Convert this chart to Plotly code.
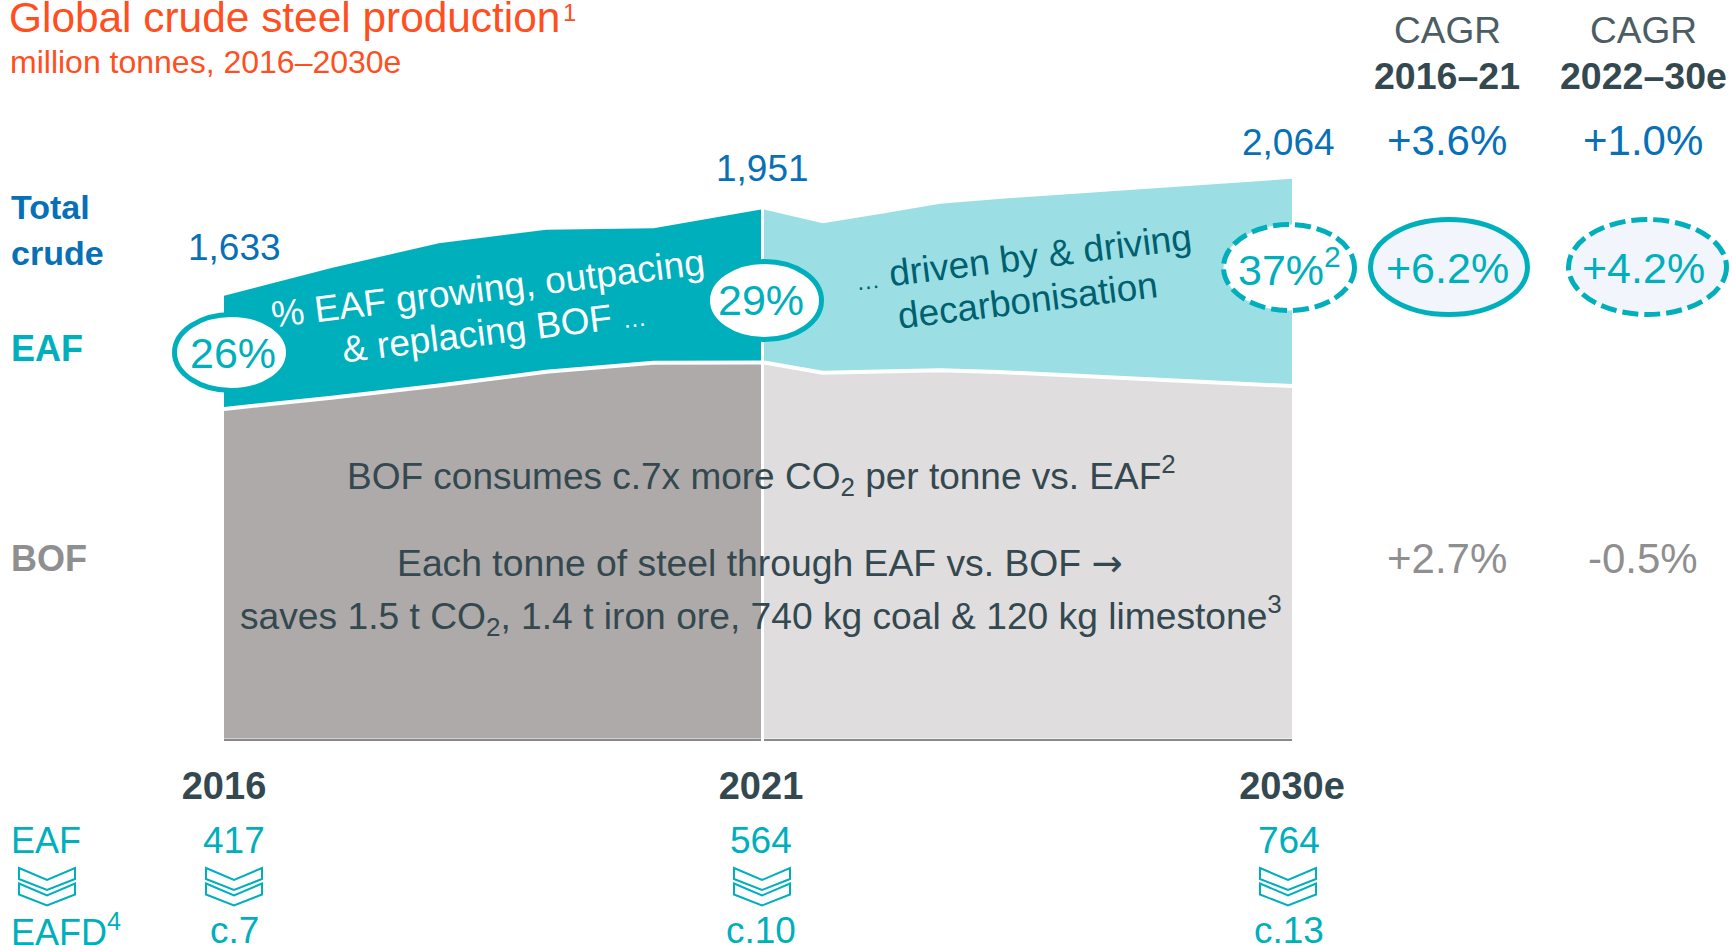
import plotly.graph_objects as go

W, H = 1733, 945
FONT = "Liberation Sans"

# ---- data (million tonnes) ----
years_a = [2016, 2017, 2018, 2019, 2020, 2021]
total_a = [1633, 1735, 1827, 1876, 1882, 1951]
bof_a = [1216, 1257, 1302, 1353, 1386, 1387]

years_b = [2021, 2022, 2023, 2024, 2025, 2030]
total_b = [1951, 1900, 1935, 1972, 1990, 2064]
bof_b = [1387, 1349, 1354, 1358, 1352, 1300]

total_labels = ["1,633", "1,951", "2,064"]
year_ticks = ["2016", "2021", "2030e"]
eaf_labels = ["417", "564", "764"]
eafd_labels = ["c.7", "c.10", "c.13"]
share_labels = ["26%", "29%", "37%<sup>2</sup>"]
cagr_heads = ["2016–21", "2022–30e"]
cagr_total = ["+3.6%", "+1.0%"]
cagr_eaf = ["+6.2%", "+4.2%"]
cagr_bof = ["+2.7%", "-0.5%"]

# ---- colours ----
TEAL = "#00afbc"
TEAL_L = "#9bdfe4"
GREY_D = "#aeaaa9"
GREY_L = "#dfddde"
BLUE = "#0870b6"
ORANGE = "#ff4f1f"
DARK = "#34484f"
MIDGREY = "#8f8f8f"
PALE = "#f2f5fb"

# ---- pixel layout helpers ----
BASE_PX = 738.8
SCALE = 0.2713  # px per million tonnes


def px(x):
    return x / W


def py(y):
    return 1 - y / H


fig = go.Figure()


def add_panel(years, total, bof, col_bof, col_eaf, xa):
    fig.add_trace(go.Scatter(x=years, y=bof, xaxis=xa, yaxis="y", mode="lines",
                             line=dict(width=0), fill="tozeroy", fillcolor=col_bof,
                             hoverinfo="skip", showlegend=False))
    fig.add_trace(go.Scatter(x=years, y=total, xaxis=xa, yaxis="y", mode="lines",
                             line=dict(width=0), fill="tonexty", fillcolor=col_eaf,
                             hoverinfo="skip", showlegend=False))
    fig.add_trace(go.Scatter(x=years, y=bof, xaxis=xa, yaxis="y", mode="lines",
                             line=dict(width=4, color="white"),
                             hoverinfo="skip", showlegend=False))


add_panel(years_a, total_a, bof_a, GREY_D, TEAL, "x")
add_panel(years_b, total_b, bof_b, GREY_L, TEAL_L, "x2")

annotations = []


def label(text, x, y, size, color, weight=400, angle=0, xanchor="center"):
    annotations.append(dict(
        text=text, x=px(x), y=py(y), xref="paper", yref="paper", showarrow=False,
        xanchor=xanchor, yanchor="middle", textangle=angle, borderpad=0,
        font=dict(family=FONT, size=size, color=color, weight=weight)))


SMALL_DOTS = '<span style="font-size:24px">…</span>'
ARROW = '<span style="font-family:\'DejaVu Sans\'">→</span>'

# title
label("Global crude steel production", 8, 17, 42.4, ORANGE, xanchor="left")
label("1", 562, 13, 24, ORANGE, xanchor="left")
label("million tonnes, 2016–2030e", 9, 62, 32, ORANGE, xanchor="left")

# row captions
label("Total", 10, 207, 34, BLUE, 700, xanchor="left")
label("crude", 10, 253, 34, BLUE, 700, xanchor="left")
label("EAF", 10, 348, 36, TEAL, 700, xanchor="left")
label("BOF", 10, 558, 36, MIDGREY, 700, xanchor="left")
label("EAF", 10, 840, 36, TEAL, xanchor="left")
label("EAFD<sup>4</sup>", 10, 930, 36, TEAL, xanchor="left")

# totals above the areas
for t, (x, y) in zip(total_labels, [(234, 247), (762, 168), (1288, 142)]):
    label(t, x, y, 37, BLUE)

# band captions
label("% EAF growing, outpacing", 488, 289, 37, "white", angle=-7)
label("&amp; replacing BOF " + SMALL_DOTS, 494, 331, 37, "white", angle=-7)
label(SMALL_DOTS + " driven by &amp; driving", 1023, 257, 37, "#00606f", angle=-7)
label("decarbonisation", 1027, 300, 37, "#00606f", angle=-7)
label("BOF consumes c.7x more CO<sub>2</sub> per tonne vs. EAF<sup>2</sup>", 761, 476, 37, DARK)
label("Each tonne of steel through EAF vs. BOF " + ARROW, 760, 563, 37.3, DARK)
label("saves 1.5 t CO<sub>2</sub>, 1.4 t iron ore, 740 kg coal &amp; 120 kg limestone<sup>3</sup>", 761, 615, 37.2, DARK)

# bottom table
for t, t2, x in zip(eaf_labels, eafd_labels, [234, 761, 1289]):
    label(t, x, 840, 37, TEAL)
    label(t2, x, 930, 37, TEAL)

# CAGR columns
for head, a, b, c, x in zip(cagr_heads, cagr_total, cagr_eaf, cagr_bof, [1447, 1643]):
    label("CAGR", x, 30, 37, "#4c5d64")
    label(head, x, 76, 37.5, DARK, 700)
    label(a, x, 140, 42, BLUE)
    label(c, x, 558, 42, MIDGREY)

shapes = []


def ellipse(x0, x1, y0, y1, fill, dash=None):
    shapes.append(dict(type="circle", xref="paper", yref="paper",
                       x0=px(x0 + 2.5), x1=px(x1 - 2.5), y0=py(y1 - 2.5), y1=py(y0 + 2.5),
                       fillcolor=fill,
                       line=dict(color=TEAL, width=5, dash=dash or "solid")))


def chevron(cx, top):
    hw = 28
    for dy in (15.5, 0):
        pts = [(cx - hw, top + dy), (cx, top + dy + 12), (cx + hw, top + dy),
               (cx + hw, top + dy + 11), (cx, top + dy + 22), (cx - hw, top + dy + 11)]
        path = "M " + " L ".join(f"{px(a):.5f},{py(b):.5f}" for a, b in pts) + " Z"
        shapes.append(dict(type="path", xref="paper", yref="paper", path=path,
                           fillcolor="white", line=dict(color=TEAL, width=2)))


ellipse(172, 291, 312, 393, "white")
ellipse(705, 824, 259, 342, "white")
ellipse(1221, 1357, 222, 313, "white", "16px,6px")
ellipse(1368, 1530, 217, 317, PALE)
ellipse(1566, 1729, 217, 317, PALE, "16px,6px")

for s, (x, y) in zip(share_labels, [(233, 353), (761, 300), (1289, 267)]):
    label(s, x, y, 43, TEAL)
for s, x in zip(cagr_eaf, [1447, 1643]):
    label(s, x, 268, 43, TEAL)

for cx in (47, 234, 762, 1288):
    chevron(cx, 868)

axis_common = dict(showgrid=False, zeroline=False, showline=True, linecolor="#8a8a8a",
                   linewidth=2, ticks="outside", ticklen=13, tickcolor="rgba(0,0,0,0)",
                   tickmode="array", anchor="y", automargin=False,
                   tickfont=dict(family=FONT, size=38, color=DARK, weight=700))

fig.update_layout(
    width=W, height=H, margin=dict(l=0, r=0, t=0, b=0, autoexpand=False),
    paper_bgcolor="white", plot_bgcolor="white", showlegend=False,
    xaxis=dict(domain=[px(224), px(761)], range=[2016, 2021],
               tickvals=[2016, 2021], ticktext=year_ticks[:2], **axis_common),
    xaxis2=dict(domain=[px(764), px(1292)], range=[2021, 2030],
                tickvals=[2030], ticktext=year_ticks[2:], **axis_common),
    yaxis=dict(domain=[py(BASE_PX), 1], range=[0, BASE_PX / SCALE], visible=False),
    annotations=annotations, shapes=shapes,
)

fig.write_html("out.html", config=dict(displayModeBar=False),
               post_script="document.body.style.margin='0';document.body.style.overflow='hidden';")
